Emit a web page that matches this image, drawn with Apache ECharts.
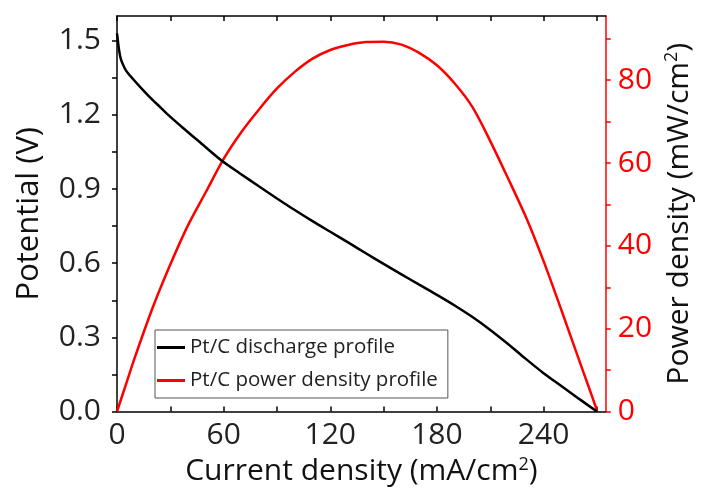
<!DOCTYPE html>
<html><head><meta charset="utf-8">
<script src="https://cdn.jsdelivr.net/npm/echarts@6/dist/echarts.min.js"></script>
<style>html,body{margin:0;padding:0;background:#fff}#c{width:702px;height:493px}</style>
</head><body><div id="c"></div>
<script>
// Discharge profile (current density mA/cm2 -> potential V)
var dischargeI = [0, 0.5, 1, 2, 3, 5, 9, 14, 18, 23, 28, 37, 46, 59, 69, 80, 90, 100, 110, 120, 130, 140, 150, 160, 170, 180, 190, 200, 210, 220, 230, 240, 250, 260, 270];
var dischargeV = [1.53, 1.50, 1.47, 1.43, 1.41, 1.38, 1.345, 1.305, 1.275, 1.24, 1.205, 1.148, 1.093, 1.014, 0.964, 0.91, 0.862, 0.815, 0.77, 0.727, 0.684, 0.64, 0.597, 0.555, 0.513, 0.472, 0.429, 0.382, 0.33, 0.273, 0.213, 0.155, 0.103, 0.051, 0.0];
// Power density profile (current density mA/cm2 -> mW/cm2)
var powerI = [0, 5, 10, 20, 30, 40, 50, 60, 70, 80, 90, 100, 110, 120, 130, 140, 150, 160, 170, 180, 190, 200, 210, 220, 230, 240, 250, 260, 265, 270];
var powerP = [0, 6.5, 13, 25, 35.5, 45, 53, 61, 67.5, 73, 78, 82, 85.2, 87.3, 88.5, 89.2, 89.3, 88.6, 86.6, 83.6, 79.2, 73.5, 65.3, 56.3, 47, 36.3, 24.5, 12.4, 6.4, 0.3];
// Ticks
var xLabels = [0, 60, 120, 180, 240];
var xTicks = [0, 30, 60, 90, 120, 150, 180, 210, 240, 270];
var yLabels = [0, 0.3, 0.6, 0.9, 1.2, 1.5];
var yTicks = [0, 0.15, 0.3, 0.45, 0.6, 0.75, 0.9, 1.05, 1.2, 1.35, 1.5];
var y2Labels = [0, 20, 40, 60, 80];
var y2Ticks = [0, 10, 20, 30, 40, 50, 60, 70, 80, 90];
var seriesNames = ['Pt/C discharge profile', 'Pt/C power density profile'];

function pairs(a, b) { return a.map(function (v, i) { return [v, b[i]]; }); }

var FONT = 'Open Sans';
var chart = echarts.init(document.getElementById('c'), null, {renderer: 'canvas'});
chart.setOption({
  animation: false,
  backgroundColor: '#fff',
  grid: {left: 117, top: 16, width: 492, height: 395.5},
  legend: {
    orient: 'vertical', left: 155, top: 330,
    padding: [7, 10, 7, 2], itemGap: 12,
    borderColor: '#555', borderWidth: 1,
    itemWidth: 28, itemHeight: 3,
    textStyle: {fontFamily: FONT, fontSize: 20.5, color: '#222'},
    data: [
      {name: seriesNames[0], icon: 'rect', itemStyle: {color: '#000'}},
      {name: seriesNames[1], icon: 'rect', itemStyle: {color: '#ff0000'}}
    ]
  },
  xAxis: [{
    type: 'value', position: 'bottom', min: 0, max: 275,
    name: 'Current density (mA/cm{sup|2})', nameLocation: 'middle', nameGap: 42,
    nameTextStyle: {fontFamily: FONT, fontSize: 30, color: '#111',
      rich: {sup: {fontFamily: FONT, fontSize: 18, color: '#111', verticalAlign: 'top', padding: [0, 0, 14, 0]}}},
    axisLine: {show: true, onZero: false, lineStyle: {color: '#000', width: 1.5}},
    axisTick: {show: true, inside: true, length: 5, lineStyle: {color: '#000', width: 1.5}, customValues: xTicks},
    axisLabel: {show: true, margin: 9, fontFamily: FONT, fontSize: 30, color: '#222', customValues: xLabels},
    splitLine: {show: false}
  }, {
    type: 'value', position: 'top', min: 0, max: 275,
    axisLine: {show: true, onZero: false, lineStyle: {color: '#000', width: 1.5}},
    axisTick: {show: true, inside: true, length: 5, lineStyle: {color: '#000', width: 1.5}, customValues: xTicks},
    axisLabel: {show: false},
    splitLine: {show: false}
  }],
  yAxis: [{
    type: 'value', position: 'left', min: 0, max: 1.6,
    name: 'Potential (V)', nameLocation: 'middle', nameRotate: 90, nameGap: 72,
    nameTextStyle: {fontFamily: FONT, fontSize: 31, color: '#111'},
    axisLine: {show: true, onZero: false, lineStyle: {color: '#000', width: 1.5}},
    axisTick: {show: true, inside: false, length: 5, lineStyle: {color: '#000', width: 1.5}, customValues: yTicks},
    axisLabel: {show: true, margin: 16, fontFamily: FONT, fontSize: 30, color: '#222', customValues: yLabels,
      formatter: function (v) { return v.toFixed(1); }},
    splitLine: {show: false}
  }, {
    type: 'value', position: 'right', min: 0, max: 95.5,
    name: 'Power density (mW/cm{sup|2})', nameLocation: 'middle', nameRotate: 90, nameGap: 46,
    nameTextStyle: {fontFamily: FONT, fontSize: 30, color: '#111',
      rich: {sup: {fontFamily: FONT, fontSize: 18, color: '#111', verticalAlign: 'top', padding: [0, 0, 14, 0]}}},
    axisLine: {show: true, onZero: false, lineStyle: {color: '#ff0000', width: 1.5}},
    axisTick: {show: true, inside: false, length: 5, lineStyle: {color: '#ff0000', width: 1.5}, customValues: y2Ticks},
    axisLabel: {show: true, margin: 12, fontFamily: FONT, fontSize: 30, color: '#ff0000', customValues: y2Labels},
    splitLine: {show: false}
  }],
  series: [{
    name: seriesNames[0], type: 'line', xAxisIndex: 0, yAxisIndex: 0,
    data: pairs(dischargeI, dischargeV), showSymbol: false, smooth: 0.3,
    lineStyle: {color: '#000', width: 2.5}, itemStyle: {color: '#000'}, z: 3
  }, {
    name: seriesNames[1], type: 'line', xAxisIndex: 0, yAxisIndex: 1,
    data: pairs(powerI, powerP), showSymbol: false, smooth: 0.3,
    lineStyle: {color: '#ff0000', width: 2.5}, itemStyle: {color: '#ff0000'}, z: 2
  }]
});
</script></body></html>
